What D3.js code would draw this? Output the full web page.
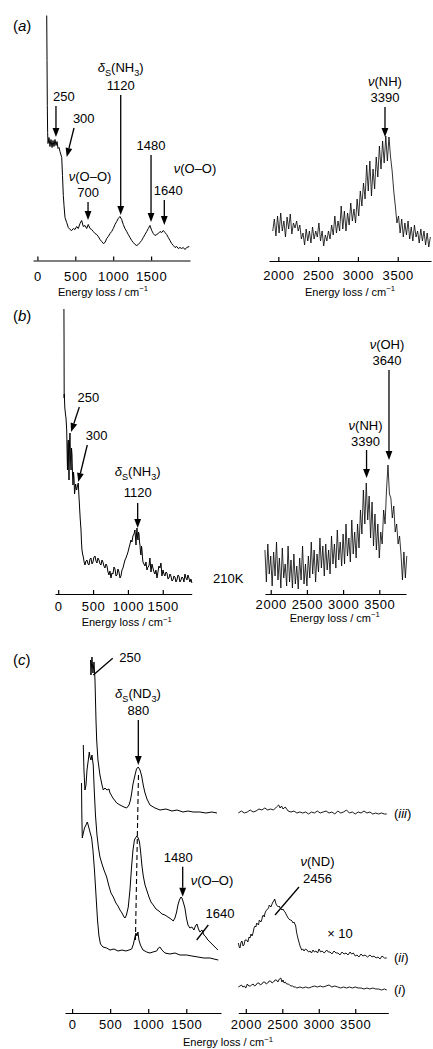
<!DOCTYPE html>
<html>
<head>
<meta charset="utf-8">
<script src="https://cdn.jsdelivr.net/npm/d3@7"></script>
<style>
  body { margin: 0; background: #fff; }
  text { font-family: "Liberation Sans", Arial, Helvetica, sans-serif; fill: #000; }
</style>
</head>
<body>
<div class="canvas"></div>
<script>
// ---- data: [energy loss / cm-1, intensity (arb. units)] ----
const lowTicks = [0, 500, 1000, 1500];
const highTicks = [2000, 2500, 3000, 3500];

// (a) low energy region
const aLow = [[123,245],[127,200],[131,155],[135,128],[140,117],[153,123],[166,114],[179,121],[193,113],[206,120],
  [219,114],[232,121],[245,115],[259,119],[272,112],[285,113],[298,109],[321,103],[331,85],[342,65],[351,55],
  [364,43],[386,38],[408,33],[430,31],[452,30],[474,32],[496,31],[518,34],[539,32],[562,37],[584,40],[605,34],
  [628,35],[650,32],[671,36],[694,32],[716,31],[737,29],[760,27],[782,26],[803,24],[826,21],[848,19],[869,17],
  [892,18],[914,22],[935,24],[958,27],[980,29],[1001,32],[1024,36],[1046,39],[1067,42],[1089,44],[1112,41],
  [1133,36],[1155,32],[1178,29],[1199,26],[1221,23],[1244,20],[1265,18],[1288,16],[1310,15],[1331,16],[1353,18],
  [1375,20],[1397,23],[1419,26],[1442,29],[1463,32],[1485,35],[1508,30],[1529,27],[1551,25],[1574,26],[1595,27],
  [1617,29],[1640,28],[1661,30],[1683,28],[1705,26],[1727,23],[1749,20],[1771,17],[1793,15],[1815,13],[1837,14],
  [1858,12],[1881,13],[1903,12],[1924,13],[1947,11],[1969,13],[2003,14]];

// (a) high energy region
const aHigh = [[1930,30],[1950,42],[1970,25],[1990,45],[2010,28],[2030,48],[2050,30],[2070,40],[2090,24],[2110,44],
  [2130,32],[2150,47],[2170,27],[2190,38],[2210,33],[2230,40],[2250,30],[2270,36],[2290,22],[2310,28],[2330,16],
  [2350,32],[2370,20],[2390,30],[2410,18],[2430,34],[2450,22],[2470,30],[2490,24],[2510,38],[2530,20],[2550,30],
  [2570,15],[2590,26],[2610,20],[2630,30],[2650,22],[2670,36],[2690,26],[2710,45],[2730,28],[2750,40],[2770,30],
  [2790,55],[2810,32],[2830,50],[2850,30],[2870,48],[2890,36],[2910,58],[2930,40],[2950,52],[2970,38],[2990,62],
  [3010,45],[3030,70],[3050,55],[3070,78],[3090,62],[3110,96],[3130,70],[3150,100],[3170,65],[3190,92],[3210,72],
  [3230,104],[3250,84],[3270,115],[3290,92],[3310,120],[3330,98],[3350,125],[3370,100],[3390,124],[3410,104],
  [3430,90],[3450,70],[3470,55],[3490,38],[3510,45],[3530,28],[3550,42],[3570,24],[3590,38],[3610,26],[3630,40],
  [3650,22],[3670,34],[3690,20],[3710,36],[3730,24],[3750,30],[3770,18],[3790,32],[3810,20],[3830,30],[3850,16],
  [3870,28],[3890,14],[3910,24]];

// (b) low energy region, 210K
const bLow = [[82,285],[84,250],[85,215],[86,196],[87,200],[95,186],[104,180],[112,176],[122,164],[128,140],
  [133,124],[139,150],[145,154],[150,128],[155,114],[162,150],[169,161],[176,136],[184,124],[191,146],[198,139],
  [205,120],[212,109],[220,122],[227,116],[234,100],[241,104],[250,110],[258,106],[265,104],[276,108],[288,111],
  [296,100],[303,91],[315,76],[327,64],[334,52],[341,44],[350,40],[360,37],[372,32],[384,29],[398,33],[413,34],
  [428,30],[442,29],[456,35],[470,36],[485,30],[499,32],[513,37],[528,38],[542,33],[556,31],[570,36],[585,34],
  [600,30],[614,29],[628,34],[642,32],[656,28],[671,26],[686,30],[700,28],[714,22],[728,19],[742,23],[757,16],
  [771,21],[786,20],[800,27],[815,25],[829,18],[843,19],[857,25],[872,22],[886,16],[900,18],[915,24],[929,26],
  [943,30],[958,34],[972,36],[987,39],[1001,42],[1015,46],[1030,50],[1044,54],[1058,52],[1072,58],[1087,60],
  [1101,64],[1109,56],[1116,49],[1123,60],[1130,66],[1137,58],[1144,54],[1152,62],[1159,60],[1166,52],[1173,49],
  [1180,42],[1187,39],[1195,48],[1202,44],[1209,36],[1216,32],[1230,30],[1245,28],[1259,32],[1273,24],[1288,27],
  [1302,28],[1316,36],[1331,22],[1345,30],[1359,26],[1374,22],[1388,20],[1402,24],[1417,16],[1431,22],[1445,28],
  [1460,26],[1474,31],[1488,18],[1503,24],[1517,20],[1531,18],[1546,22],[1560,21],[1575,15],[1589,16],[1603,20],
  [1617,18],[1632,13],[1646,14],[1660,18],[1675,17],[1689,12],[1703,14],[1718,19],[1732,18],[1746,12],[1761,14],
  [1775,17],[1790,16],[1804,12],[1818,20],[1833,16],[1847,14],[1861,19],[1875,16],[1890,12],[1904,15],[1918,11]];

// (b) high energy region
const bHigh = [[1920,44],[1940,12],[1960,50],[1980,20],[2000,38],[2020,8],[2040,42],[2060,18],[2080,52],[2100,14],
  [2120,36],[2140,6],[2160,46],[2180,16],[2200,30],[2220,8],[2240,48],[2260,12],[2280,34],[2300,6],[2320,40],
  [2340,10],[2360,28],[2380,5],[2400,36],[2420,14],[2440,48],[2460,10],[2480,30],[2500,8],[2520,38],[2540,16],
  [2560,52],[2580,20],[2600,44],[2620,12],[2640,40],[2660,22],[2680,56],[2700,26],[2720,48],[2740,18],[2760,50],
  [2780,24],[2800,44],[2820,20],[2840,58],[2860,30],[2880,50],[2900,26],[2920,64],[2940,34],[2960,52],[2980,28],
  [3000,60],[3020,30],[3040,70],[3060,38],[3080,56],[3100,32],[3120,74],[3140,40],[3160,62],[3180,36],[3200,70],
  [3220,46],[3240,84],[3260,60],[3280,104],[3300,70],[3320,111],[3340,74],[3360,98],[3380,56],[3400,92],[3420,48],
  [3440,80],[3460,44],[3480,70],[3500,36],[3520,62],[3540,50],[3560,84],[3580,70],[3600,104],[3620,129],[3640,100],
  [3660,96],[3680,76],[3700,88],[3720,62],[3740,70],[3760,50],[3780,58],[3800,40],[3820,14],[3840,42],[3860,16],
  [3880,38]];

// (c) ND3, stacked traces (i), (ii), (iii)
const cLowIII = [[242,353],[248,338],[261,356],[274,340],[288,351],[301,333],[314,293],[323,273],[340,253],
  [366,238],[393,228],[410,223],[432,225],[458,223],[485,224],[498,220],[537,215],[586,210],[629,208],[682,206],
  [717,205],[748,208],[767,213],[783,220],[800,229],[827,238],[846,244],[869,246],[892,243],[914,237],[937,227],
  [958,220],[984,214],[1023,208],[1089,205],[1155,203],[1233,204],[1312,202],[1378,203],[1456,201],[1522,202],
  [1591,201],[1679,201],[1758,200],[1837,201],[1903,200]];
const cLowII = [[147,268],[156,243],[169,223],[183,228],[196,243],[213,253],[226,261],[235,256],[248,253],
  [261,258],[278,248],[291,223],[307,198],[327,178],[347,165],[366,156],[393,149],[419,143],[454,136],[484,127],
  [511,120],[541,116],[576,110],[603,107],[629,103],[656,100],[682,96],[695,95],[714,98],[738,106],[760,123],
  [783,148],[800,163],[819,173],[832,175],[852,177],[869,175],[885,171],[898,163],[918,147],[935,137],[958,128],
  [980,123],[1010,116],[1036,111],[1066,108],[1102,104],[1141,102],[1180,99],[1220,98],[1259,96],[1299,94],
  [1329,92],[1351,95],[1373,101],[1390,108],[1410,113],[1430,116],[1443,115],[1460,111],[1482,105],[1502,95],
  [1522,88],[1548,85],[1574,86],[1600,83],[1620,87],[1640,89],[1660,84],[1679,81],[1706,83],[1732,78],[1758,76],
  [1784,73],[1811,71],[1837,69],[1863,67],[1889,65],[1916,63]];
const cLowI = [[124,230],[128,198],[134,175],[145,179],[163,185],[183,188],[200,191],[215,187],[235,181],
  [257,175],[274,163],[294,143],[314,118],[334,93],[353,77],[373,69],[406,66],[454,65],[498,63],[550,64],
  [603,62],[656,63],[708,62],[748,63],[783,64],[806,69],[826,76],[839,80],[852,77],[865,81],[878,73],[898,68],
  [931,63],[980,61],[1023,60],[1062,61],[1111,62],[1134,65],[1154,66],[1180,63],[1220,60],[1286,59],[1351,60],
  [1417,58],[1505,58],[1574,57],[1653,56],[1732,55],[1811,55],[1863,54],[1920,53]];
const cHighIII = [[1897,200],[1940,202],[1980,200],[2020,201],[2060,203],[2100,201],[2140,202],[2180,204],
  [2220,203],[2260,205],[2300,203],[2340,204],[2380,203],[2420,206],[2450,208],[2470,205],[2490,207],[2510,204],
  [2540,206],[2580,202],[2620,201],[2660,202],[2700,200],[2740,201],[2780,200],[2820,201],[2860,199],[2900,201],
  [2940,200],[2980,202],[3020,200],[3060,201],[3100,202],[3140,200],[3180,201],[3220,199],[3260,202],[3300,200],
  [3340,201],[3380,203],[3420,200],[3460,201],[3500,199],[3540,201],[3580,200],[3620,202],[3660,200],[3700,201],
  [3740,199],[3780,200],[3820,199],[3860,200],[3900,199],[3932,199]];
const cHighII = [[1897,70],[1910,66],[1920,65],[1935,71],[1948,72],[1962,67],[1975,68],[1990,73],[2012,73],
  [2028,71],[2044,76],[2058,75],[2071,79],[2085,77],[2099,80],[2112,85],[2126,87],[2138,86],[2149,90],[2162,89],
  [2174,88],[2185,93],[2195,92],[2206,91],[2218,93],[2230,97],[2243,98],[2253,96],[2263,100],[2275,102],[2287,103],
  [2299,104],[2311,105],[2322,108],[2332,107],[2344,106],[2355,108],[2365,110],[2373,111],[2380,112],[2387,112],
  [2394,114],[2400,113],[2410,110],[2421,108],[2433,107],[2446,106],[2458,107],[2469,105],[2482,104],[2496,103],
  [2510,104],[2524,102],[2538,101],[2551,99],[2565,97],[2579,95],[2592,94],[2606,93],[2620,93],[2633,92],[2647,90],
  [2661,91],[2672,89],[2681,88],[2688,85],[2695,81],[2707,77],[2720,73],[2732,70],[2743,67],[2755,65],[2766,63],
  [2782,64],[2798,62],[2818,64],[2839,63],[2860,61],[2880,62],[2900,60],[2921,63],[2940,61],[2962,62],[2983,60],
  [3004,64],[3025,61],[3045,62],[3075,60],[3109,63],[3130,61],[3154,61],[3180,59],[3209,62],[3236,60],[3264,60],
  [3290,58],[3319,61],[3346,59],[3374,60],[3400,58],[3429,61],[3450,59],[3474,60],[3500,57],[3525,58],[3550,56],
  [3579,59],[3605,57],[3634,58],[3668,56],[3703,58],[3730,56],[3758,57],[3785,55],[3813,56],[3840,54],[3867,57],
  [3900,55],[3932,55]];
const cHighI = [[1897,26],[1920,27],[1940,28],[1960,26],[1980,27],[2000,25],[2020,29],[2040,27],[2060,27],
  [2080,28],[2100,29],[2120,27],[2140,28],[2160,30],[2180,30],[2200,28],[2220,29],[2240,31],[2260,31],[2280,29],
  [2300,30],[2320,32],[2340,32],[2360,30],[2380,31],[2400,33],[2420,33],[2440,31],[2460,34],[2480,35],[2495,31],
  [2510,33],[2525,30],[2540,31],[2560,29],[2580,29],[2600,28],[2620,27],[2640,27],[2660,26],[2680,26],[2700,25],
  [2740,26],[2780,25],[2820,26],[2860,25],[2900,26],[2940,27],[2980,26],[3020,27],[3060,26],[3100,27],[3140,28],
  [3180,26],[3220,27],[3260,26],[3300,25],[3340,26],[3380,25],[3420,26],[3460,25],[3500,26],[3540,25],[3580,25],
  [3620,24],[3660,25],[3700,24],[3740,25],[3780,24],[3820,24],[3860,23],[3900,24],[3932,23]];

// ---- drawing ----
const svg = d3.select('.canvas').append('svg')
  .attr('width', 433)
  .attr('height', 1049);

function panel(domain, range, base, ticks, pad) {
  const x = d3.scaleLinear().domain(domain).range(range);
  const y = d3.scaleLinear().domain([0, 100]).range([base, base - 100]);
  const g = svg.append('g');
  const axis = d3.axisBottom(x)
    .tickValues(ticks)
    .tickFormat(d3.format('d'))   // no thousands separator
    .tickSizeInner(-4)            // ticks point up into the plot
    .tickSizeOuter(0)
    .tickPadding(pad);
  const ax = g.append('g').attr('transform', `translate(0, ${base})`).call(axis);
  ax.attr('font-family', null).attr('font-size', null);
  ax.selectAll('path, line').attr('stroke', '#000').attr('stroke-width', 1.2);
  ax.selectAll('text').attr('font-size', 13).attr('letter-spacing', 0.6);
  return { x, y, g };
}

function trace(p, data, width = 1) {
  const line = d3.line().x(d => p.x(d[0])).y(d => p.y(d[1]));
  p.g.append('path').datum(data)
    .attr('d', line)
    .attr('fill', 'none')
    .attr('stroke', '#000')
    .attr('stroke-width', width)
    .attr('stroke-linejoin', 'round');
}

// text with italic / sub / superscript parts
function rich(x, y, parts, size = 13, anchor = 'middle') {
  const t = svg.append('text').attr('x', x).attr('y', y)
    .attr('text-anchor', anchor).attr('font-size', size);
  let shift = 0;
  parts.forEach(p => {
    const target = p.sub ? 3.5 : p.sup ? -4.5 : 0;
    const s = t.append('tspan').text(p.t).attr('dy', target - shift);
    shift = target;
    if (p.sub || p.sup) s.attr('font-size', size * 0.7);
    if (p.i) s.attr('font-style', 'italic');
  });
  return t;
}
const nu = s => [{ t: 'ν', i: true }, { t: s }];
const deltaS = (a, n) => [{ t: 'δ', i: true }, { t: 'S', sub: true }, { t: '(' + a }, { t: n, sub: true }, { t: ')' }];
const xTitle = [{ t: 'Energy loss / cm' }, { t: '−1', sup: true }];

function arrow(x1, y1, x2, y2, head = true) {
  const ang = Math.atan2(y2 - y1, x2 - x1), L = 9, W = 3.4;
  const bx = x2 - L * Math.cos(ang), by = y2 - L * Math.sin(ang);
  svg.append('line')
    .attr('x1', x1).attr('y1', y1)
    .attr('x2', head ? bx : x2).attr('y2', head ? by : y2)
    .attr('stroke', '#000').attr('stroke-width', 1.3);
  if (head) {
    svg.append('path')
      .attr('d', `M${x2},${y2}L${bx + W * Math.sin(ang)},${by - W * Math.cos(ang)}L${bx - W * Math.sin(ang)},${by + W * Math.cos(ang)}Z`)
      .attr('fill', '#000');
  }
}

function panelLabel(letter, y) {
  rich(13, y, [{ t: '(' }, { t: letter, i: true }, { t: ')' }], 15, 'start');
}

// ---------- (a) ----------
const aL = panel([-58, 2013], [33, 190], 260.5, lowTicks, 11);
const aR = panel([1883, 3918], [269, 431], 261, highTicks, 10);
trace(aL, aLow);
trace(aR, aHigh, 0.8);
panelLabel('a', 31);
rich(103, 295.5, xTitle, 11);
rich(350, 295.5, xTitle, 11);

arrow(aL.x(245), 106, aL.x(245), 137);
rich(aL.x(245) + 8, 101, [{ t: '250' }]);
arrow(aL.x(387) + 7.3, 128, aL.x(387), 157);
rich(aL.x(387) + 17, 123, [{ t: '300' }]);
arrow(aL.x(668), 202, aL.x(668), 220);
rich(aL.x(668) + 2, 181, nu('(O–O)'));
rich(aL.x(668), 197, [{ t: '700' }]);
arrow(aL.x(1099), 95, aL.x(1099), 215);
rich(aL.x(1099), 72, deltaS('NH', '3'));
rich(aL.x(1099), 90, [{ t: '1120' }]);
arrow(aL.x(1499), 155, aL.x(1499), 222);
rich(aL.x(1499), 150, [{ t: '1480' }]);
arrow(aL.x(1674), 200, aL.x(1674), 225);
rich(aL.x(1674) + 4, 195, [{ t: '1640' }]);
rich(195, 173, nu('(O–O)'));

arrow(aR.x(3340), 107, aR.x(3340), 137);
rich(aR.x(3340), 86, nu('(NH)'));
rich(aR.x(3340), 102, [{ t: '3390' }]);

// ---------- (b) ----------
const bL = panel([-46, 1915], [55, 191.7], 594, lowTicks, 8);
const bR = panel([1921, 3869], [265, 406], 594, highTicks, 5.5);
trace(bL, bLow);
trace(bR, bHigh, 0.8);
panelLabel('b', 321);
rich(126.7, 626, xTitle, 11);
rich(334.7, 621.5, xTitle, 11);
rich(213, 583, [{ t: '210K' }], 13, 'start');

arrow(bL.x(184) + 8.3, 407, bL.x(184), 432);
rich(88.3, 402, [{ t: '250' }]);
arrow(bL.x(288) + 9, 445, bL.x(288), 482);
rich(96.7, 440, [{ t: '300' }]);
arrow(bL.x(1140), 503, bL.x(1140), 528);
rich(bL.x(1140), 476, deltaS('NH', '3'));
rich(bL.x(1140), 497, [{ t: '1120' }]);

arrow(bR.x(3634), 370, bR.x(3634), 460);
rich(bR.x(3634) - 2, 349, nu('(OH)'));
rich(bR.x(3634) - 2, 365, [{ t: '3640' }]);
arrow(bR.x(3324), 450, bR.x(3324), 478);
rich(bR.x(3324) - 1, 430, nu('(NH)'));
rich(bR.x(3324) - 1, 446, [{ t: '3390' }]);

// ---------- (c) ----------
const cL = panel([-93, 1956], [65, 221], 1013, lowTicks, 7);
const cR = panel([1897, 3953], [238.3, 388.3], 1013, highTicks, 7);
[cLowIII, cLowII, cLowI].forEach(d => trace(cL, d));
[cHighIII, cHighII, cHighI].forEach(d => trace(cR, d, 0.9));
panelLabel('c', 665);
rich(228, 1046, xTitle, 11);

// dashed guide through the 880 peaks
svg.append('line')
  .attr('x1', cL.x(872)).attr('y1', 775)
  .attr('x2', cL.x(832)).attr('y2', 940)
  .attr('stroke', '#000').attr('stroke-width', 1.1)
  .attr('stroke-dasharray', '5,3');

arrow(cL.x(279), 675, cL.x(279) + 19.4, 658.3, false);
rich(119.3, 662, [{ t: '250' }], 13, 'start');
arrow(cL.x(870), 720, cL.x(870), 765);
rich(138, 698, deltaS('ND', '3'));
rich(138.3, 715, [{ t: '880' }]);
arrow(cL.x(1453), 866.7, cL.x(1453), 896.7);
rich(178.3, 862, [{ t: '1480' }]);
rich(212, 885, nu('(O–O)'));
arrow(196.7, 940, 208.3, 925, false);
rich(220, 918, [{ t: '1640' }]);

rich(317.5, 866, nu('(ND)'));
rich(317.5, 883, [{ t: '2456' }]);
arrow(299, 887, 275, 915, false);
rich(340, 938, [{ t: '× 10' }]);

const seriesLabels = [['iii', 818], ['ii', 962], ['i', 994]];
seriesLabels.forEach(([s, yy]) => rich(394, yy, [{ t: '(' }, { t: s, i: true }, { t: ')' }], 13, 'start'));
</script>
</body>
</html>
